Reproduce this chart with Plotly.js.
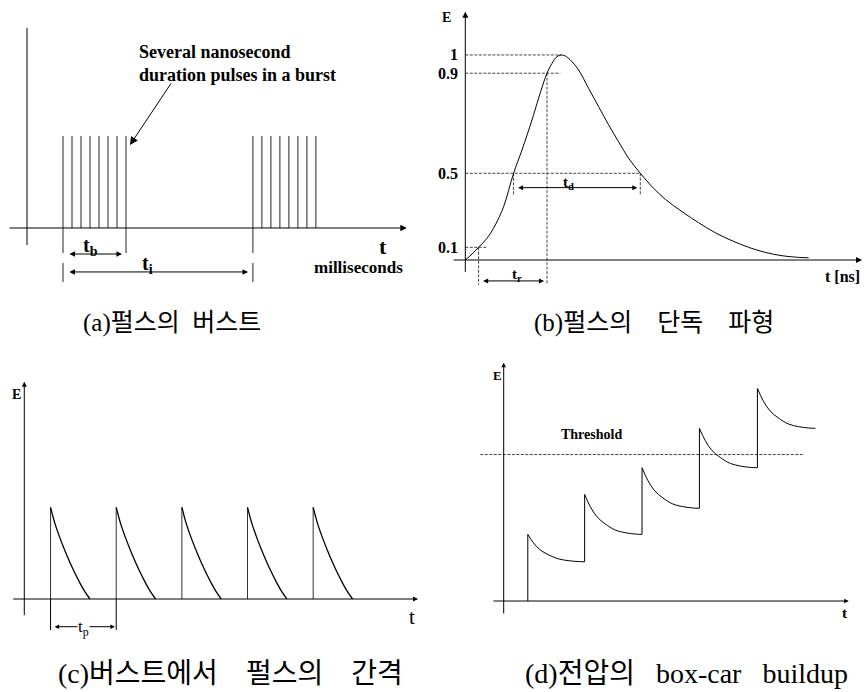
<!DOCTYPE html>
<html><head><meta charset="utf-8">
<script src="https://cdn.plot.ly/plotly-3.0.1.min.js"></script>
<style>html,body{margin:0;padding:0;background:#fff}</style>
</head><body><div id="chart" style="width:864px;height:692px"></div>
<script>
// ---------- Panel (a): burst of pulses ----------
const burst1Times = [4, 5, 6, 7, 8, 9, 10, 11];
const burst2Times = [25.1, 26.1, 27.1, 28.1, 29.1, 30.1, 31.1, 32.1];
const burstPulseHeight = 1;

// ---------- Panel (b): single pulse waveform ----------
const pulseT = [0, 0.67, 1.33, 2.17, 3.0, 3.83, 4.83, 5.67, 6.67, 7.33, 8.17, 8.67, 9.17, 9.6, 10.0, 10.5, 11.33, 12.33, 13.33, 14.33, 15.33, 16.33, 17.5, 18.67, 20.0, 21.67, 23.33, 25.0, 26.67, 28.33, 30.0, 31.67, 33.33, 34.33];
const pulseE = [0, 0.029, 0.062, 0.106, 0.171, 0.26, 0.423, 0.537, 0.683, 0.789, 0.911, 0.959, 0.992, 1.0, 0.995, 0.976, 0.927, 0.837, 0.748, 0.659, 0.577, 0.496, 0.423, 0.358, 0.296, 0.236, 0.182, 0.133, 0.094, 0.062, 0.037, 0.021, 0.013, 0.011];
const levelLabels = ['1', '0.9', '0.5', '0.1'];
const levelDrawn = [1.0, 0.911, 0.423, 0.062];
const levelLineEnd = [9.6, 9.5, 17.5, 2.17];
const t10 = 1.33, t90 = 8.17, t50rise = 4.83, t50fall = 17.5;

// ---------- Panel (c): pulse spacing in a burst ----------
const spacingPulseTimes = [0.4, 1.4, 2.4, 3.4, 4.4];
const spacingPulseHeight = 1;
const spacingDecayLength = 0.6;
const cDecayFrac = [0, 0.11, 0.24, 0.41, 0.58, 0.75, 0.87, 1];
const cDecayVal = [1, 0.825, 0.664, 0.48, 0.316, 0.171, 0.08, 0];

// ---------- Panel (d): box-car buildup ----------
const stepTimes = [0.42, 1.41, 2.41, 3.41, 4.42];
const stepEndTime = 5.43;
const stepPeaks = [0.455, 0.728, 0.910, 1.179, 1.452];
const stepLows = [0.268, 0.455, 0.633, 0.910, 1.179];
const dDecayFrac = [0, 0.1, 0.215, 0.36, 0.535, 0.71, 0.884, 1];
const dDecayVal = [1, 0.69, 0.44, 0.26, 0.108, 0.042, 0.008, 0];
const thresholdLevel = 1;

const SERIF = 'Liberation Serif, Noto Sans CJK KR, serif';
const KFONT = 'Liberation Serif, Noto Sans CJK KR, serif';
const traces = [];
const annotations = [];

function xr(n) { return n === 1 ? 'x' : 'x' + n; }
function yr(n) { return n === 1 ? 'y' : 'y' + n; }
function addLine(n, xs, ys, opt) {
  opt = opt || {};
  traces.push({type: 'scatter', mode: 'lines', x: xs, y: ys, xaxis: xr(n), yaxis: yr(n),
    hoverinfo: 'skip', line: {color: opt.color || '#000', width: opt.width || 1, dash: opt.dash || 'solid', shape: opt.shape || 'linear'}});
}
function addArrow(n, x0, y0, x1, y1, opt) {
  opt = opt || {};
  annotations.push({xref: xr(n), yref: yr(n), axref: xr(n), ayref: yr(n), x: x1, y: y1, ax: x0, ay: y0,
    text: '', showarrow: true, arrowhead: 2, arrowsize: opt.size || 1.3, arrowwidth: 1, arrowcolor: '#000',
    arrowside: opt.both ? 'end+start' : 'end', startarrowhead: 2, startarrowsize: opt.size || 1.3});
}
function addLabel(n, x, y, text, opt) {
  opt = opt || {};
  annotations.push({xref: n === 0 ? 'paper' : xr(n), yref: n === 0 ? 'paper' : yr(n), x: x, y: y, text: text, showarrow: false,
    xanchor: opt.xanchor || 'center', yanchor: opt.yanchor || 'middle', align: opt.align || 'center',
    bgcolor: opt.bg || 'rgba(0,0,0,0)', borderpad: 0,
    font: {family: opt.family || SERIF, size: opt.size || 14, color: '#000', weight: opt.bold === false ? 'normal' : 'bold'}});
}

// ===== Panel (a) =====
(function () {
  const n = 1;
  addLine(n, [0, 0], [-0.185, 2.174]);
  addArrow(n, -2.11, 0, 42.2, 0, {size: 1.3});
  const px = [], py = [];
  burst1Times.concat(burst2Times).forEach(t => { px.push(t, t, null); py.push(0, burstPulseHeight, null); });
  addLine(n, px, py, {color: '#222'});
  const ext = [burst1Times[0], burst1Times[burst1Times.length - 1], burst2Times[0]];
  const ex = [], ey = [];
  ext.forEach(t => { ex.push(t, t, null); ey.push(0, -0.272, null); });
  [burst1Times[0], burst2Times[0]].forEach(t => { ex.push(t, t, null); ey.push(-0.38, -0.587, null); });
  addLine(n, ex, ey, {color: '#222'});
  addArrow(n, burst1Times[0] + 0.55, -0.283, burst1Times[burst1Times.length - 1] - 0.45, -0.283, {both: true, size: 1.1});
  addArrow(n, burst1Times[0] + 0.55, -0.478, burst2Times[0] - 0.54, -0.478, {both: true, size: 1.1});
  addLabel(n, 7.0, -0.2, 't<sub>b</sub>', {size: 20});
  addLabel(n, 13.44, -0.4, 't<sub>i</sub>', {size: 20});
  addLabel(n, 39.56, -0.2, 't', {size: 22});
  addLabel(n, 36.78, -0.43, 'milliseconds', {size: 17});
  addLabel(n, 12.33, 1.783, 'Several nanosecond<br>duration pulses in a burst', {size: 18, xanchor: 'left', align: 'left'});
  addArrow(n, 16.11, 1.587, burst1Times[burst1Times.length - 1] + 0.44, 0.902, {size: 1.6});
})();

// ===== Panel (b) =====
(function () {
  const n = 2;
  addArrow(n, 0, -0.065, 0, 1.211, {size: 1.2});
  addArrow(n, -1.33, 0, 39.67, 0, {size: 1.2});
  const dx = [], dy = [];
  levelDrawn.forEach((lv, i) => { dx.push(0, levelLineEnd[i], null); dy.push(lv, lv, null); });
  dx.push(t10, t10, null); dy.push(levelDrawn[3], -0.122, null);
  dx.push(t90, t90, null); dy.push(levelDrawn[1], -0.122, null);
  dx.push(t50rise, t50rise, null); dy.push(levelDrawn[2], 0.317, null);
  dx.push(t50fall, t50fall, null); dy.push(levelDrawn[2], 0.317, null);
  addLine(n, dx, dy, {color: '#444', dash: '3px,1.5px'});
  addLine(n, pulseT, pulseE, {shape: 'spline'});
  levelLabels.forEach((lb, i) => addLabel(n, -0.66, levelDrawn[i], lb, {size: 16, xanchor: 'right'}));
  addLabel(n, -1.93, 1.185, 'E', {size: 14});
  addLabel(n, 39.6, -0.081, 't [ns]', {size: 16, xanchor: 'right'});
  addArrow(n, t10 + 0.3, -0.102, t90 - 0.3, -0.102, {both: true, size: 1.0});
  addArrow(n, t50rise + 0.3, 0.353, t50fall - 0.3, 0.353, {both: true, size: 1.0});
  addLabel(n, 5.17, -0.073, 't<sub>r</sub>', {size: 15});
  addLabel(n, 10.34, 0.377, 't<sub>d</sub>', {size: 15});
})();

// ===== Panel (c) =====
(function () {
  const n = 3;
  addArrow(n, 0, -0.193, 0, 2.37, {size: 1.0});
  addArrow(n, -0.192, 0, 5.997, 0, {size: 1.0});
  spacingPulseTimes.forEach(t => {
    addLine(n, [t, t], [0, spacingPulseHeight], {color: '#333'});
    addLine(n, cDecayFrac.map(f => t + f * spacingDecayLength), cDecayVal.map(v => v * spacingPulseHeight), {shape: 'spline', width: 1.3});
  });
  const tx = [], ty = [];
  [spacingPulseTimes[0], spacingPulseTimes[1]].forEach(t => { tx.push(t, t, null); ty.push(0, -0.338, null); });
  addLine(n, tx, ty);
  addArrow(n, spacingPulseTimes[0] + 0.04, -0.302, spacingPulseTimes[1] - 0.02, -0.302, {both: true, size: 0.9});
  addLabel(n, (spacingPulseTimes[0] + spacingPulseTimes[1]) / 2, -0.316, 't<sub>p</sub>', {size: 17, bold: false, bg: '#fff'});
  addLabel(n, -0.116, 2.232, 'E', {size: 14});
  addLabel(n, 5.9, -0.193, 't', {size: 21, bold: false});
})();

// ===== Panel (d) =====
(function () {
  const n = 4;
  addArrow(n, 0, -0.0956, 0, 1.627, {size: 0.9});
  addArrow(n, -0.204, 0, 6.01, 0, {size: 0.9});
  addLine(n, [-0.408, 5.226], [thresholdLevel, thresholdLevel], {color: '#444', dash: '3px,1.5px'});
  for (let i = 0; i < stepTimes.length; i++) {
    const t = stepTimes[i];
    const tEnd = i < stepTimes.length - 1 ? stepTimes[i + 1] : stepEndTime;
    const startY = i === 0 ? 0 : stepLows[i - 1];
    addLine(n, [t, t], [startY, stepPeaks[i]]);
    addLine(n, dDecayFrac.map(f => t + f * (tEnd - t)), dDecayVal.map(v => stepLows[i] + v * (stepPeaks[i] - stepLows[i])), {shape: 'spline'});
  }
  addLabel(n, 1.526, 1.138, 'Threshold', {size: 14});
  addLabel(n, -0.111, 1.543, 'E', {size: 13});
  addLabel(n, 5.93, -0.082, 't', {size: 15});
})();

// ===== Captions =====
addLabel(0, 172 / 864, 1 - 323 / 692, '(a)펄스의\u2002버스트', {size: 25, bold: false, family: KFONT});
addLabel(0, 654 / 864, 1 - 323 / 692, '(b)펄스의\u3000단독\u3000파형', {size: 25, bold: false, family: KFONT});
addLabel(0, 230 / 864, 1 - 673 / 692, '(c)버스트에서\u3000펄스의\u3000간격', {size: 28, bold: false, family: KFONT});
addLabel(0, 524 / 864, 1 - 673 / 692, '(d)전압의\u2002\u2005box-car\u2002\u2005buildup', {size: 28, bold: false, family: KFONT, xanchor: 'left'});

function ax(dom, range) {
  return {domain: dom, range: range, visible: false, showgrid: false, zeroline: false, fixedrange: true};
}
const topDom = [1 - 300 / 692, 1], botDom = [0, 1 - 340 / 692];
const layout = {
  width: 864, height: 692, margin: {l: 0, r: 0, t: 0, b: 0},
  paper_bgcolor: '#fff', plot_bgcolor: 'rgba(0,0,0,0)', showlegend: false,
  xaxis: ax([0, 0.5], [-3, 45]), yaxis: ax(topDom, [-0.783, 2.478]),
  xaxis2: ax([0.5, 1], [-3.33, 39.87]), yaxis2: ax(topDom, [-0.195, 1.268]),
  xaxis3: ax([0, 0.5], [-0.370, 6.210]), yaxis3: ax(botDom, [-1.0142, 2.8244]),
  xaxis4: ax([0.5, 1], [-1.249, 6.277]), yaxis4: ax(botDom, [-0.621, 1.782]),
  annotations: annotations
};
layout.xaxis.anchor = 'y'; layout.yaxis.anchor = 'x';
layout.xaxis2.anchor = 'y2'; layout.yaxis2.anchor = 'x2';
layout.xaxis3.anchor = 'y3'; layout.yaxis3.anchor = 'x3';
layout.xaxis4.anchor = 'y4'; layout.yaxis4.anchor = 'x4';
Plotly.newPlot('chart', traces, layout, {staticPlot: true, displayModeBar: false});
</script></body></html>
